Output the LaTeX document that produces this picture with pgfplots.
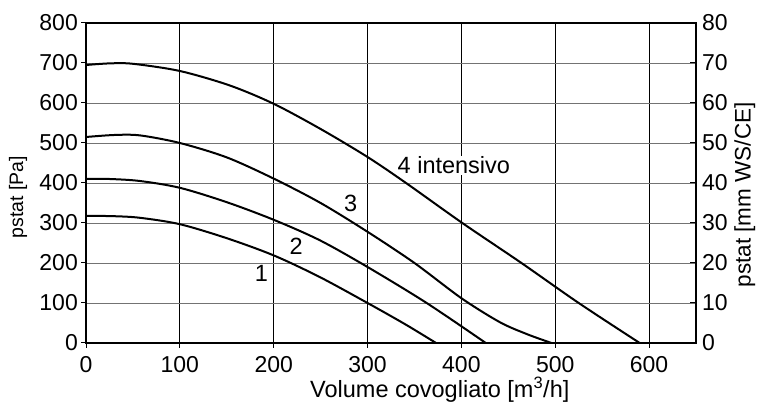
\documentclass[border=0pt]{standalone}
\usepackage{fontspec}
\setmainfont{Liberation Sans}
\usepackage{pgfplots}
\pgfplotsset{compat=1.18}
\usetikzlibrary{calc}

\newcommand{\tickfont}{\fontsize{23bp}{26bp}\selectfont}
\newcommand{\labfont}{\fontsize{23.5bp}{27bp}\selectfont}

\begin{document}
\begin{tikzpicture}
    \begin{axis}[
        scale only axis,
        width=610bp, height=320bp,
        xmin=0, xmax=650,
        ymin=0, ymax=800,
        xtick={0,100,...,600},
        ytick={0,100,...,800},
        xtick pos=bottom, ytick pos=left,
        tick align=outside,
        major tick length=5bp,
        every tick/.style={black, line width=1bp},
        axis line style={line width=1.3bp},
        xmajorgrids=true, ymajorgrids=true,
        x grid style={black, line width=1bp},
        y grid style={black!55, line width=0.9bp},
        /pgf/number format/assume math mode=true,
        tick label style={font=\tickfont, inner sep=3bp},
        xticklabel style={yshift=-5bp},
        clip=false,
      ]
      % curve 1
      \addplot[black, line width=2bp, smooth] coordinates {
        (0,318) (30,317) (57.5,313) (100,297) (150,262) (200,219)
        (249,165) (300,100) (340,47) (373,0)
      };
      % curve 2
      \addplot[black, line width=2bp, smooth] coordinates {
        (0,410) (25,410) (57.5,405) (100,388) (150,352) (200,308)
        (249,257) (300,190) (363,100) (426,0)
      };
      % curve 3
      \addplot[black, line width=2bp, smooth] coordinates {
        (0,515) (30,520) (57.5,519) (100,500) (150,464) (200,411)
        (250,350) (300,278) (350,200) (400,112) (441,52) (470,22) (496,0)
      };
      % curve 4 intensivo
      \addplot[black, line width=2bp, smooth] coordinates {
        (0,695) (25,699) (50,698) (100,680) (153,644) (200,598)
        (250,535) (300,465) (341,400) (401,300) (464,200)
        (525,100) (590,0)
      };

      \node[font=\labfont] at (axis cs:187,175) {1};
      \node[font=\labfont] at (axis cs:224,243) {2};
      \node[font=\labfont] at (axis cs:282,348) {3};
      \node[font=\labfont, fill=white, inner sep=1bp] at (axis cs:392,444) {4 intensivo};

      \node[font=\fontsize{19.5bp}{22bp}\selectfont, rotate=90] at (rel axis cs:-0.1115,0.455) {pstat [Pa]};
      \node[font=\fontsize{22.5bp}{26bp}\selectfont, rotate=90] at (rel axis cs:1.080,0.463) {pstat [mm WS/CE]};
      \node[font=\labfont, anchor=base] at (rel axis cs:0.58,-0.170) {Volume covogliato [m\textsuperscript{3}/h]};

      \coordinate (sw) at (rel axis cs:0,0);
      \coordinate (ne) at (rel axis cs:1,1);
    \end{axis}
    \begin{axis}[
        scale only axis,
        width=610bp, height=320bp,
        xmin=0, xmax=650,
        ymin=0, ymax=80,
        axis x line=none,
        axis y line*=right,
        ytick={0,10,...,80},
        tick align=inside,
        major tick length=6bp,
        every tick/.style={black, line width=1bp},
        axis line style={line width=1.3bp},
        /pgf/number format/assume math mode=true,
        tick label style={font=\tickfont, inner sep=3bp},
        yticklabel style={xshift=3bp},
      ]
      \addplot[draw=none] coordinates {(0,0) (650,80)};
    \end{axis}
    \pgfresetboundingbox
    \path[use as bounding box] ($(sw)+(-86bp,-60.3bp)$) rectangle ($(ne)+(64bp,23bp)$);
\end{tikzpicture}
\end{document}
